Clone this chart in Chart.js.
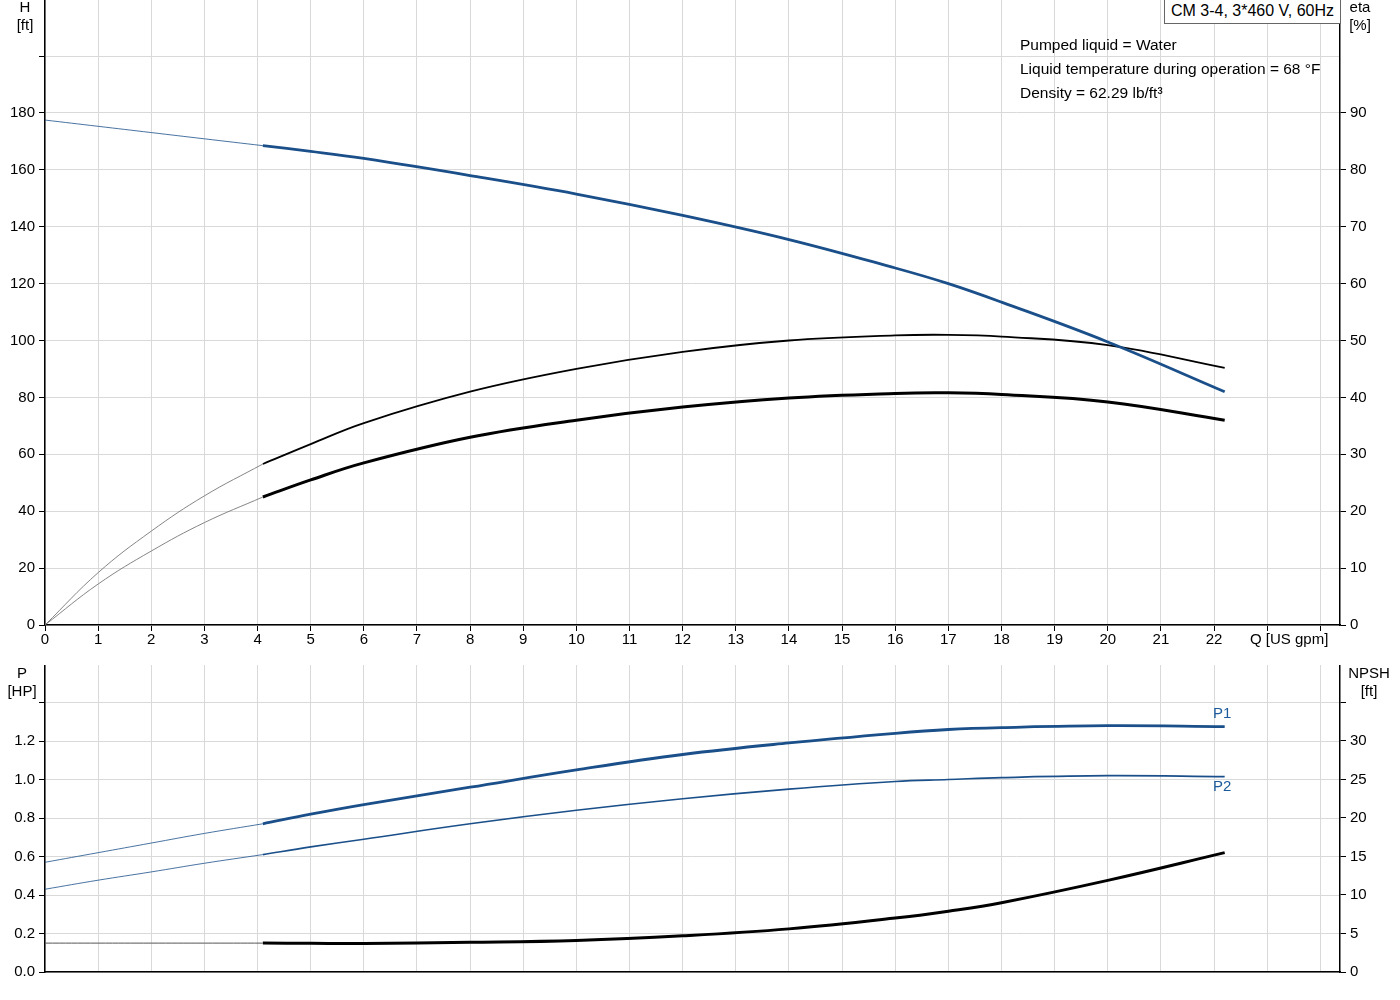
<!DOCTYPE html>
<html><head><meta charset="utf-8">
<script src="https://cdn.jsdelivr.net/npm/chart.js@4/dist/chart.umd.min.js"></script>
<style>
body{margin:0;background:#fff;font-family:"Liberation Sans",Arial,sans-serif;overflow:hidden}
.t{position:absolute;font-size:15px;color:#000;line-height:18px;text-align:center;white-space:nowrap}
#c1{position:absolute;left:0;top:0}
#c2{position:absolute;left:0;top:665px}
</style></head><body>
<canvas id="c1" width="1400" height="660"></canvas>
<canvas id="c2" width="1400" height="335"></canvas>
<div class="t" style="left:12px;top:-2px;width:26px">H<br>[ft]</div>
<div class="t" style="left:1345px;top:-2px;width:30px">eta<br>[%]</div>
<div class="t" style="left:1250px;top:630px">Q [US gpm]</div>
<div class="t" style="left:4px;top:664px;width:36px">P<br>[HP]</div>
<div class="t" style="left:1344px;top:664px;width:50px">NPSH<br>[ft]</div>
<div class="t" style="left:1164px;top:0;border:1px solid #666;border-top:none;padding:2px 6px 3px 6px;background:#fff;font-size:16px">CM 3-4, 3*460 V, 60Hz</div>
<div class="t" style="left:1020px;top:33px;text-align:left;line-height:24px;font-size:15.5px">Pumped liquid = Water<br>Liquid temperature during operation = 68 °F<br>Density = 62.29 lb/ft³</div>
<div class="t" style="left:1213px;top:704px;color:#1a5a9a">P1</div>
<div class="t" style="left:1213px;top:777px;color:#1a5a9a">P2</div>
<script>
const qThin=[0,1,2,3,4.1];
const qThick=[4.1,5,6,8,10,12,14,16,17,18,20,22.2];
const headThin=[177.5,175.3,173.1,170.9,168.5];
const headThick=[168.5,166.5,164,158,151.5,144,135.5,125.5,120,113.5,99.5,82];
const etaThin=[0,9.2,16.5,22.7,28.3];
const etaThick=[28.3,31.8,35.5,41,45,48,50,50.9,51,50.7,49.2,45.2];
const eta2Thin=[0,7.2,13,18,22.5];
const eta2Thick=[22.5,25.5,28.5,33,36,38.3,39.9,40.7,40.8,40.5,39.2,36];
const p1Thin=[0.57,0.62,0.67,0.72,0.77];
const p1Thick=[0.77,0.82,0.87,0.96,1.05,1.13,1.19,1.24,1.26,1.27,1.28,1.275];
const p2Thin=[0.43,0.477,0.52,0.565,0.61];
const p2Thick=[0.61,0.65,0.69,0.77,0.84,0.90,0.95,0.99,1.0,1.01,1.02,1.015];
const npshThin=[3.75,3.75,3.75,3.75,3.75];
const npshThick=[3.75,3.72,3.7,3.85,4.1,4.7,5.6,7.0,7.9,9.0,11.9,15.5];
const hTicks=[0,20,40,60,80,100,120,140,160,180,200];
const etaTicks=[0,10,20,30,40,50,60,70,80,90];
const pTicks=[0,0.2,0.4,0.6,0.8,1.0,1.2,1.4];
const nTicks=[0,5,10,15,20,25,30,35];

const BLUE='#1a4f8a';
Chart.defaults.font={family:'"Liberation Sans", Arial, sans-serif',size:15};
Chart.defaults.color='#000';
const pts=(xs,ys)=>xs.map((x,i)=>({x,y:ys[i]}));
function ds(xs,ys,color,w,axis){return {data:pts(xs,ys),borderColor:color,borderWidth:w,pointRadius:0,yAxisID:axis,tension:0.4,fill:false};}
const grid={color:'#d9d9d9',lineWidth:1,drawTicks:true,tickColor:'#000',tickLength:6};
const setTicks=arr=>s=>{s.ticks=arr.map(v=>({value:v}));};
const xScale=(show)=>({type:'linear',min:0,max:24.37,afterBuildTicks:setTicks([...Array(25).keys()]),
  ticks:{display:show,maxRotation:0,autoSkip:false,padding:0,callback:v=>v<=22?v:''},
  grid:{...grid,drawTicks:show},border:{color:'#000',width:1.5},
  afterFit:s=>{s.height=show?35:28;}});
const opts=(ymax,yt,ylim,yfmt,rmax,rt,rlim,show)=>({
  responsive:false,animation:false,
  layout:{padding:0},
  plugins:{legend:{display:false},tooltip:{enabled:false}},
  scales:{
    x:xScale(show),
    y:{min:0,max:ymax,position:'left',afterBuildTicks:setTicks(yt),ticks:{autoSkip:false,padding:4,callback:v=>v<=ylim+1e-9?yfmt(v):''},
       grid:{...grid},border:{color:'#000',width:1.5},afterFit:s=>{s.width=45;s.paddingTop=0;}},
    y2:{min:0,max:rmax,position:'right',afterBuildTicks:setTicks(rt),ticks:{autoSkip:false,padding:4,callback:v=>v<=rlim+1e-9?v:''},
       grid:{drawOnChartArea:false,tickColor:'#000',tickLength:6},border:{color:'#000',width:1.5},afterFit:s=>{s.width=60;s.paddingTop=0;}}
  }});
new Chart(document.getElementById('c1'),{type:'line',data:{datasets:[
  ds(qThin,headThin,BLUE,0.8,'y'),ds(qThick,headThick,BLUE,2.8,'y'),
  ds(qThin,etaThin,'#777',0.9,'y2'),ds(qThick,etaThick,'#000',1.8,'y2'),
  ds(qThin,eta2Thin,'#777',0.9,'y2'),ds(qThick,eta2Thick,'#000',3,'y2')
]},options:opts(219.7,hTicks,180,v=>v,109.85,etaTicks,90,true)});
new Chart(document.getElementById('c2'),{type:'line',data:{datasets:[
  ds(qThin,p1Thin,BLUE,0.8,'y'),ds(qThick,p1Thick,BLUE,2.8,'y'),
  ds(qThin,p2Thin,BLUE,0.8,'y'),ds(qThick,p2Thick,BLUE,1.6,'y'),
  ds(qThin,npshThin,'#555',1,'y2'),ds(qThick,npshThick,'#000',3,'y2')
]},options:opts(1.595,pTicks,1.2,v=>v.toFixed(1),39.87,nTicks,30,false)});
</script></body></html>
